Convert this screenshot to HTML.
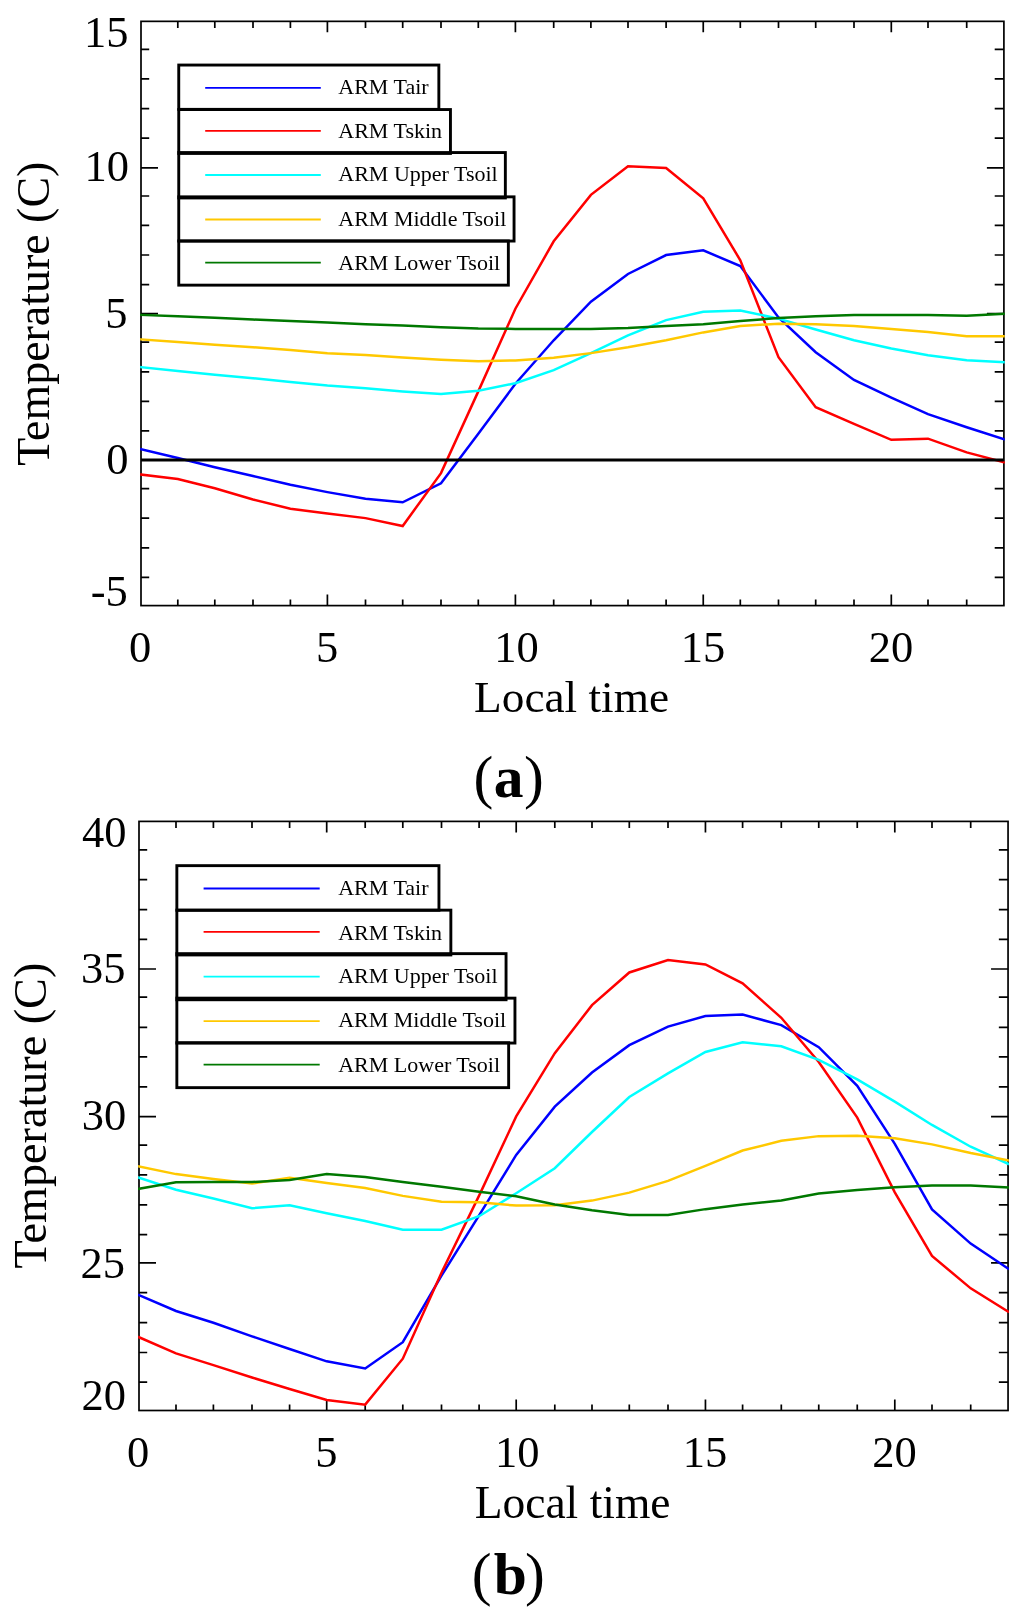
<!DOCTYPE html>
<html><head><meta charset="utf-8"><title>ARM temperatures</title>
<style>html,body{margin:0;padding:0;background:#fff;width:1024px;height:1617px;overflow:hidden}svg{will-change:transform}</style>
</head><body>
<svg width="1024" height="1617" viewBox="0 0 1024 1617" font-family="'Liberation Serif', serif" style="display:block">
<rect width="1024" height="1617" fill="#fff"/>
<path d="M177.8 605.6v-6M177.8 21.35v6.6M214.8 605.6v-6M214.8 21.35v6.6M253 605.6v-6M253 21.35v6.6M290.4 605.6v-6M290.4 21.35v6.6M327.4 605.6v-11M327.4 21.35v11M365.5 605.6v-6M365.5 21.35v6.6M402.7 605.6v-6M402.7 21.35v6.6M441 605.6v-6M441 21.35v6.6M478.3 605.6v-6M478.3 21.35v6.6M515.4 605.6v-11M515.4 21.35v11M553.7 605.6v-6M553.7 21.35v6.6M590.9 605.6v-6M590.9 21.35v6.6M628 605.6v-6M628 21.35v6.6M666.1 605.6v-6M666.1 21.35v6.6M703.25 605.6v-11M703.25 21.35v11M740.3 605.6v-6M740.3 21.35v6.6M778.5 605.6v-6M778.5 21.35v6.6M815.7 605.6v-6M815.7 21.35v6.6M854 605.6v-6M854 21.35v6.6M891.3 605.6v-11M891.3 21.35v11M928 605.6v-6M928 21.35v6.6M966.7 605.6v-6M966.7 21.35v6.6M141 577.3h8.2M1003.9 577.3h-9.2M141 547.8h8.2M1003.9 547.8h-9.2M141 518.2h8.2M1003.9 518.2h-9.2M141 488.7h8.2M1003.9 488.7h-9.2M141 459.8h17M1003.9 459.8h-17M141 430.9h8.2M1003.9 430.9h-9.2M141 401.3h8.2M1003.9 401.3h-9.2M141 371.9h8.2M1003.9 371.9h-9.2M141 342.2h8.2M1003.9 342.2h-9.2M141 313.6h17M1003.9 313.6h-17M141 284.7h8.2M1003.9 284.7h-9.2M141 255h8.2M1003.9 255h-9.2M141 225.4h8.2M1003.9 225.4h-9.2M141 196h8.2M1003.9 196h-9.2M141 167.8h17M1003.9 167.8h-17M141 138.1h8.2M1003.9 138.1h-9.2M141 108.6h8.2M1003.9 108.6h-9.2M141 78.9h8.2M1003.9 78.9h-9.2M141 49.4h8.2M1003.9 49.4h-9.2" stroke="#000" stroke-width="1.7" fill="none"/>
<rect x="141" y="21.35" width="862.9" height="584.25" fill="none" stroke="#000" stroke-width="1.7"/>
<clipPath id="ca"><rect x="140.15" y="20.5" width="864.6" height="585.95"/></clipPath>
<g clip-path="url(#ca)">
<polyline points="141,449.2 177.8,457.96 214.8,467.3 253,476.06 290.4,484.82 327.4,492.12 365.5,498.84 402.7,502.34 441,483.36 478.3,433.72 515.4,383.79 553.7,340.28 590.9,301.74 628,274 666.1,255.02 703.25,250.34 740.3,266.11 778.5,317.5 815.7,352.25 854,379.99 891.3,397.51 928,414.16 966.7,427.3 1003.9,439.27" fill="none" stroke="#0000ff" stroke-width="2.5" stroke-linecap="square"/>
<polyline points="141,474.6 177.8,478.98 214.8,488.32 253,499.42 290.4,508.76 327.4,513.44 365.5,518.11 402.7,525.99 441,473.14 478.3,391.38 515.4,308.74 553.7,241.29 590.9,194.86 628,166.25 666.1,168 703.25,198.37 740.3,260.27 778.5,357.22 815.7,407.15 854,423.79 891.3,439.85 928,438.68 966.7,452.41 1003.9,462.34" fill="none" stroke="#ff0000" stroke-width="2.5" stroke-linecap="square"/>
<polyline points="141,367.14 177.8,370.94 214.8,374.74 253,378.24 290.4,382.04 327.4,385.54 365.5,388.17 402.7,391.38 441,394.01 478.3,390.8 515.4,383.2 553.7,370.06 590.9,353.13 628,335.32 666.1,320.13 703.25,311.66 740.3,310.5 778.5,318.67 815.7,329.48 854,340.28 891.3,348.46 928,355.17 966.7,360.14 1003.9,362.18" fill="none" stroke="#00ffff" stroke-width="2.5" stroke-linecap="square"/>
<polyline points="141,339.4 177.8,342.03 214.8,344.66 253,347.29 290.4,349.92 327.4,353.13 365.5,354.88 402.7,357.51 441,359.84 478.3,361.3 515.4,360.43 553.7,357.8 590.9,353.13 628,347.29 666.1,340.28 703.25,332.4 740.3,325.97 778.5,323.64 815.7,324.22 854,325.97 891.3,328.89 928,332.1 966.7,336.19 1003.9,336.19" fill="none" stroke="#ffc800" stroke-width="2.5" stroke-linecap="square"/>
<polyline points="141,314.88 177.8,316.34 214.8,317.8 253,319.55 290.4,321.01 327.4,322.47 365.5,324.22 402.7,325.39 441,327.14 478.3,328.6 515.4,328.89 553.7,328.89 590.9,328.89 628,328.02 666.1,325.97 703.25,324.22 740.3,321.01 778.5,318.09 815.7,316.34 854,314.88 891.3,314.88 928,314.88 966.7,315.75 1003.9,313.71" fill="none" stroke="#007800" stroke-width="2.5" stroke-linecap="square"/>
</g>
<path d="M141 460H1003.9" stroke="#000" stroke-width="3.0"/>
<rect x="177.3" y="63.6" width="263" height="47.2" fill="#fff"/>
<rect x="177.3" y="108.1" width="274.6" height="46.8" fill="#fff"/>
<rect x="177.3" y="151.1" width="329.5" height="48.3" fill="#fff"/>
<rect x="177.3" y="195.4" width="338.2" height="47.1" fill="#fff"/>
<rect x="177.3" y="239.5" width="332.5" height="47.1" fill="#fff"/>
<rect x="178.75" y="65.05" width="260.1" height="44.3" fill="none" stroke="#000" stroke-width="2.9"/>
<rect x="178.75" y="109.55" width="271.7" height="43.9" fill="none" stroke="#000" stroke-width="2.9"/>
<rect x="178.75" y="152.55" width="326.6" height="45.4" fill="none" stroke="#000" stroke-width="2.9"/>
<rect x="178.75" y="196.85" width="335.3" height="44.2" fill="none" stroke="#000" stroke-width="2.9"/>
<rect x="178.75" y="240.95" width="329.6" height="44.2" fill="none" stroke="#000" stroke-width="2.9"/>
<path d="M205.2 87.8H320.8" stroke="#0000ff" stroke-width="1.8"/>
<text x="338.3" y="94.3" font-size="22">ARM Tair</text>
<path d="M205.2 130.9H320.8" stroke="#ff0000" stroke-width="1.8"/>
<text x="338.3" y="138.2" font-size="22">ARM Tskin</text>
<path d="M205.2 175H320.8" stroke="#00ffff" stroke-width="1.8"/>
<text x="338.3" y="181.3" font-size="22">ARM Upper Tsoil</text>
<path d="M205.2 219.5H320.8" stroke="#ffc800" stroke-width="1.8"/>
<text x="338.3" y="225.9" font-size="22">ARM Middle Tsoil</text>
<path d="M205.2 262.6H320.8" stroke="#007800" stroke-width="1.8"/>
<text x="338.3" y="270.4" font-size="22">ARM Lower Tsoil</text>
<path d="M176 1410.5v-6M176 821.4v6.6M213.4 1410.5v-6M213.4 821.4v6.6M252 1410.5v-6M252 821.4v6.6M289.6 1410.5v-6M289.6 821.4v6.6M326.7 1410.5v-11M326.7 821.4v11M365.2 1410.5v-6M365.2 821.4v6.6M402.8 1410.5v-6M402.8 821.4v6.6M441.5 1410.5v-6M441.5 821.4v6.6M479.1 1410.5v-6M479.1 821.4v6.6M516.2 1410.5v-11M516.2 821.4v11M554.8 1410.5v-6M554.8 821.4v6.6M592 1410.5v-6M592 821.4v6.6M629.3 1410.5v-6M629.3 821.4v6.6M668 1410.5v-6M668 821.4v6.6M705.45 1410.5v-11M705.45 821.4v11M742.6 1410.5v-6M742.6 821.4v6.6M781.3 1410.5v-6M781.3 821.4v6.6M818.75 1410.5v-6M818.75 821.4v6.6M857.25 1410.5v-6M857.25 821.4v6.6M894.8 1410.5v-11M894.8 821.4v11M932 1410.5v-6M932 821.4v6.6M970.7 1410.5v-6M970.7 821.4v6.6M139 1382.2h8.2M1008.05 1382.2h-9.2M139 1352.5h8.2M1008.05 1352.5h-9.2M139 1322.6h8.2M1008.05 1322.6h-9.2M139 1292.7h8.2M1008.05 1292.7h-9.2M139 1262.8h17M1008.05 1262.8h-17M139 1234.6h8.2M1008.05 1234.6h-9.2M139 1204.8h8.2M1008.05 1204.8h-9.2M139 1174.9h8.2M1008.05 1174.9h-9.2M139 1145.2h8.2M1008.05 1145.2h-9.2M139 1116.6h17M1008.05 1116.6h-17M139 1086.8h8.2M1008.05 1086.8h-9.2M139 1056.9h8.2M1008.05 1056.9h-9.2M139 1027.3h8.2M1008.05 1027.3h-9.2M139 997.2h8.2M1008.05 997.2h-9.2M139 969h17M1008.05 969h-17M139 939.3h8.2M1008.05 939.3h-9.2M139 909.6h8.2M1008.05 909.6h-9.2M139 879.6h8.2M1008.05 879.6h-9.2M139 849.9h8.2M1008.05 849.9h-9.2" stroke="#000" stroke-width="1.7" fill="none"/>
<rect x="139" y="821.4" width="869.05" height="589.1" fill="none" stroke="#000" stroke-width="1.7"/>
<clipPath id="cb"><rect x="138.15" y="820.55" width="870.75" height="590.8"/></clipPath>
<g clip-path="url(#cb)">
<polyline points="139,1295.11 176,1311 213.4,1322.78 252,1336.32 289.6,1348.98 326.7,1361.35 365.2,1368.41 402.8,1342.21 441.5,1275.68 479.1,1215.32 516.2,1154.97 554.8,1106.69 592,1072.54 629.3,1045.16 668,1026.61 705.45,1016.02 742.6,1014.54 781.3,1025.14 818.75,1047.22 857.25,1085.79 894.8,1143.78 932,1209.44 970.7,1243.59 1008.05,1268.61" fill="none" stroke="#0000ff" stroke-width="2.5" stroke-linecap="square"/>
<polyline points="139,1337.21 176,1353.4 213.4,1365.17 252,1377.54 289.6,1389.02 326.7,1399.91 365.2,1404.62 402.8,1358.7 441.5,1272.73 479.1,1195.6 516.2,1116.41 554.8,1053.11 592,1005.12 629.3,972.44 668,960.08 705.45,964.5 742.6,983.34 781.3,1017.78 818.75,1061.94 857.25,1117.58 894.8,1192.36 932,1255.95 970.7,1288.34 1008.05,1311.59" fill="none" stroke="#ff0000" stroke-width="2.5" stroke-linecap="square"/>
<polyline points="139,1177.64 176,1189.71 213.4,1198.54 252,1208.26 289.6,1205.31 326.7,1213.26 365.2,1220.92 402.8,1229.75 441.5,1229.75 479.1,1216.21 516.2,1193.24 554.8,1168.22 592,1132.01 629.3,1096.98 668,1073.42 705.45,1051.93 742.6,1042.22 781.3,1046.34 818.75,1059.88 857.25,1079.31 894.8,1101.69 932,1124.94 970.7,1146.73 1008.05,1163.8" fill="none" stroke="#00ffff" stroke-width="2.5" stroke-linecap="square"/>
<polyline points="139,1166.45 176,1174.11 213.4,1179.11 252,1183.53 289.6,1177.64 326.7,1182.94 365.2,1187.94 402.8,1195.89 441.5,1201.78 479.1,1202.37 516.2,1205.61 554.8,1205.31 592,1200.6 629.3,1192.66 668,1180.88 705.45,1165.86 742.6,1150.56 781.3,1140.84 818.75,1136.13 857.25,1135.84 894.8,1138.19 932,1144.37 970.7,1152.91 1008.05,1160.27" fill="none" stroke="#ffc800" stroke-width="2.5" stroke-linecap="square"/>
<polyline points="139,1188.83 176,1182.35 213.4,1182.06 252,1182.06 289.6,1180 326.7,1174.11 365.2,1177.05 402.8,1182.06 441.5,1186.77 479.1,1191.77 516.2,1196.19 554.8,1204.43 592,1210.32 629.3,1215.03 668,1215.03 705.45,1209.14 742.6,1204.43 781.3,1200.6 818.75,1193.54 857.25,1190.01 894.8,1187.36 932,1185.59 970.7,1185.59 1008.05,1187.36" fill="none" stroke="#007800" stroke-width="2.5" stroke-linecap="square"/>
</g>
<rect x="175.4" y="864.2" width="265" height="47.5" fill="#fff"/>
<rect x="175.4" y="908.7" width="276.9" height="47.7" fill="#fff"/>
<rect x="175.4" y="952.2" width="332.1" height="49" fill="#fff"/>
<rect x="175.4" y="996.7" width="341" height="47.8" fill="#fff"/>
<rect x="175.4" y="1041.3" width="334.7" height="47.8" fill="#fff"/>
<rect x="176.85" y="865.65" width="262.1" height="44.6" fill="none" stroke="#000" stroke-width="2.9"/>
<rect x="176.85" y="910.15" width="274" height="44.8" fill="none" stroke="#000" stroke-width="2.9"/>
<rect x="176.85" y="953.65" width="329.2" height="46.1" fill="none" stroke="#000" stroke-width="2.9"/>
<rect x="176.85" y="998.15" width="338.1" height="44.9" fill="none" stroke="#000" stroke-width="2.9"/>
<rect x="176.85" y="1042.75" width="331.8" height="44.9" fill="none" stroke="#000" stroke-width="2.9"/>
<path d="M203.6 888.5H319.7" stroke="#0000ff" stroke-width="1.8"/>
<text x="338.2" y="894.7" font-size="22">ARM Tair</text>
<path d="M203.6 931.9H319.7" stroke="#ff0000" stroke-width="1.8"/>
<text x="338.2" y="939.8" font-size="22">ARM Tskin</text>
<path d="M203.6 976.7H319.7" stroke="#00ffff" stroke-width="1.8"/>
<text x="338.2" y="982.8" font-size="22">ARM Upper Tsoil</text>
<path d="M203.6 1021.2H319.7" stroke="#ffc800" stroke-width="1.8"/>
<text x="338.2" y="1027.4" font-size="22">ARM Middle Tsoil</text>
<path d="M203.6 1064.6H319.7" stroke="#007800" stroke-width="1.8"/>
<text x="338.2" y="1071.9" font-size="22">ARM Lower Tsoil</text>
<text x="84.04" y="46.91" font-size="44.5">15</text>
<text x="84.59" y="181.39" font-size="44.5">10</text>
<text x="105.33" y="327.69" font-size="44.5">5</text>
<text x="106.22" y="473.97" font-size="44.5">0</text>
<text x="90.68" y="605.89" font-size="44.5">-5</text>
<text x="128.93" y="661.72" font-size="44.5">0</text>
<text x="315.93" y="661.94" font-size="44.5">5</text>
<text x="494.19" y="661.94" font-size="44.5">10</text>
<text x="680.79" y="662.16" font-size="44.5">15</text>
<text x="868.8" y="661.72" font-size="44.5">20</text>
<text x="81.94" y="846.62" font-size="44.5">40</text>
<text x="80.88" y="982.94" font-size="44.5">35</text>
<text x="81.68" y="1129.82" font-size="44.5">30</text>
<text x="80.55" y="1277.99" font-size="44.5">25</text>
<text x="81.45" y="1410.12" font-size="44.5">20</text>
<text x="127.07" y="1467.02" font-size="44.5">0</text>
<text x="315.33" y="1467.24" font-size="44.5">5</text>
<text x="494.89" y="1467.24" font-size="44.5">10</text>
<text x="682.84" y="1467.46" font-size="44.5">15</text>
<text x="872.35" y="1467.02" font-size="44.5">20</text>
<text x="474.1" y="711.6" font-size="45.3">Local time</text>
<text x="474.7" y="1517.6" font-size="45.5">Local time</text>
<text transform="translate(48.5,465.8) rotate(-90)" font-size="45.95">Temperature (C)</text>
<text transform="translate(45.5,1268.5) rotate(-90)" font-size="46.2">Temperature (C)</text>
<g font-size="59.5"><text x="473.6" y="796.8">(</text><text x="493.7" y="796.8" font-weight="bold">a</text><text x="523.9" y="796.8">)</text></g>
<g font-size="59.5"><text x="471.8" y="1594.3">(</text><text x="493.8" y="1594.3" font-weight="bold">b</text><text x="525.0" y="1594.3">)</text></g>
</svg>
</body></html>
